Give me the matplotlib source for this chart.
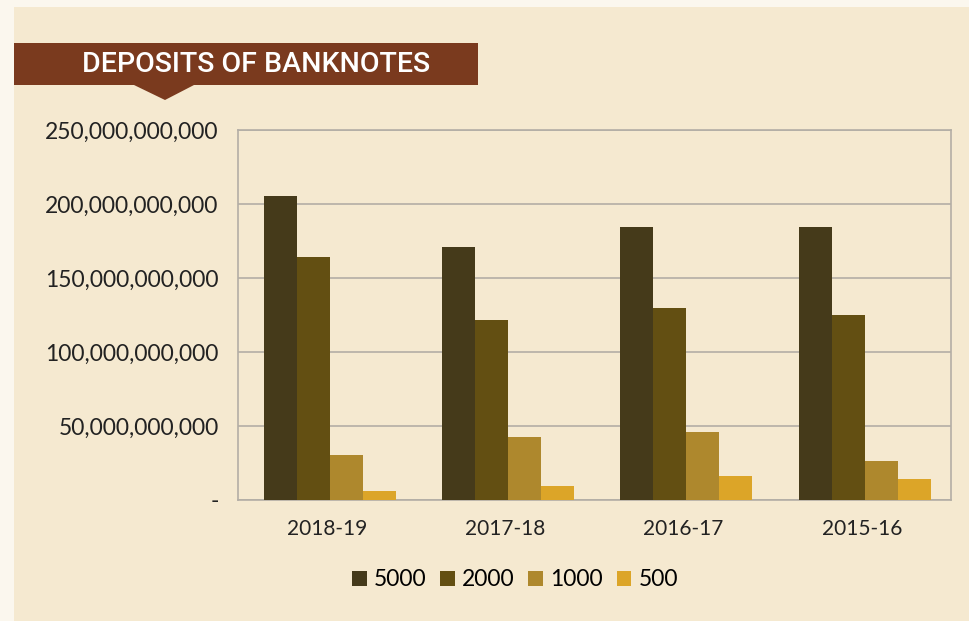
import matplotlib
matplotlib.use("Agg")
import matplotlib.pyplot as plt
import numpy as np
from matplotlib.patches import Rectangle, Polygon
from matplotlib.ticker import FuncFormatter

# Data
years = ["2018-19", "2017-18", "2016-17", "2015-16"]
denominations = ["5000", "2000", "1000", "500"]
dep_5000 = [205.5e9, 171.0e9, 184.5e9, 184.5e9]
dep_2000 = [164.2e9, 121.6e9, 129.7e9, 125.0e9]
dep_1000 = [30.4e9, 42.6e9, 45.9e9, 26.4e9]
dep_500 = [6.1e9, 9.5e9, 16.2e9, 14.2e9]
series = [dep_5000, dep_2000, dep_1000, dep_500]
y_ticks = [0, 50e9, 100e9, 150e9, 200e9, 250e9]

colors = ["#453A1A", "#634F12", "#AE882D", "#DCA528"]
panel_bg = "#F5E9D0"
font = "Lato"

fig = plt.figure(figsize=(9.7, 6.21), dpi=100)
fig.patch.set_facecolor("#FBF7EE")

# cream panel
fig.patches.append(Rectangle((14 / 970, 0), 1 - 14 / 970, 1 - 7 / 621,
                             transform=fig.transFigure, facecolor=panel_bg,
                             edgecolor="none", zorder=-2))

# title banner with pointer
fig.patches.append(Rectangle((14 / 970, 1 - 85 / 621), (478 - 14) / 970, 42 / 621,
                             transform=fig.transFigure, facecolor="#7A3A1E",
                             edgecolor="none", zorder=1))
fig.patches.append(Polygon([(134 / 970, 1 - 85 / 621), (194 / 970, 1 - 85 / 621),
                            (165 / 970, 1 - 100 / 621)],
                           transform=fig.transFigure, facecolor="#7A3A1E",
                           edgecolor="none", zorder=1))
fig.text(256 / 970, 1 - 64 / 621, "DEPOSITS OF BANKNOTES", color="white",
         fontsize=20.5, fontweight="medium", family="Roboto",
         ha="center", va="center", zorder=2)

ax = fig.add_axes([238 / 970, 1 - 500 / 621, (951 - 238) / 970, 370 / 621])
ax.set_zorder(5)
ax.set_facecolor(panel_bg)

x = np.arange(len(years))
w = 0.185
for i, (vals, lab) in enumerate(zip(series, denominations)):
    ax.bar(x + (i - 1.5) * w + 0.015, vals, width=w, color=colors[i],
           label=lab, zorder=3)

ax.set_xlim(-0.5, 3.5)
ax.set_ylim(0, 250e9)
ax.set_yticks(y_ticks)
ax.yaxis.set_major_formatter(FuncFormatter(
    lambda v, p: "-" if v == 0 else f"{v:,.0f}"))
ax.set_xticks(x)
ax.set_xticklabels(years)
ax.tick_params(length=0, colors="#222222", labelsize=16.5, pad=14)
ax.tick_params(axis="x", pad=14, labelsize=15)
for t in ax.get_xticklabels() + ax.get_yticklabels():
    t.set_family(font)

ax.grid(axis="y", color="#B3AEA5", linewidth=1.2, zorder=0)
for s in ax.spines.values():
    s.set_color("#B3AEA5")
    s.set_linewidth(1.2)

leg = fig.legend(loc="center", bbox_to_anchor=(515 / 970, 1 - 580 / 621),
                 ncol=4, frameon=False, handlelength=0.65, handleheight=0.65,
                 handletextpad=0.3, columnspacing=0.6,
                 prop={"family": font, "size": 16.5})

fig.savefig("out.png", dpi=100, facecolor=fig.get_facecolor())
